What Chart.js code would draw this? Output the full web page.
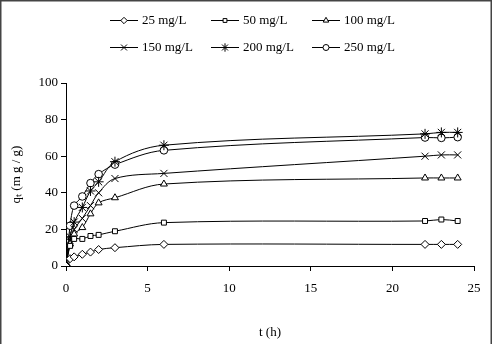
<!DOCTYPE html>
<html>
<head>
<meta charset="utf-8">
<script src="https://cdn.jsdelivr.net/npm/chart.js@4/dist/chart.umd.min.js"></script>
<style>
  html, body { margin: 0; padding: 0; background: #fff; }
  #wrap { width: 494px; height: 344px; position: relative; }
</style>
</head>
<body>
<div id="wrap"><canvas id="kinetics" width="494" height="344"></canvas></div>
<script>
// contact time (h)
const times = [0, 0.25, 0.5, 1, 1.5, 2, 3, 6, 22, 23, 24];

// qt (mg/g) for each initial concentration
const q25  = [0, 4, 5, 6.4, 7.6, 9, 10, 11.8, 11.8, 11.8, 11.8];
const q50  = [0, 11, 14.8, 14.8, 16.4, 17, 19, 23.7, 24.6, 25.4, 24.6];
const q100 = [0, 12, 17.5, 21, 28.5, 34.5, 37.3, 44.8, 48.1, 48.1, 48.1];
const q150 = [0, 14, 20, 26, 33, 40, 47.8, 50.6, 60, 60.7, 60.7];
const q200 = [0, 16, 24, 32, 41, 46, 57, 66, 72.2, 73, 73];
const q250 = [0, 22, 33, 38, 45.3, 50.2, 55.4, 63.2, 70.2, 70, 70.4];

const seriesNames = ['25 mg/L', '50 mg/L', '100 mg/L', '150 mg/L', '200 mg/L', '250 mg/L'];
const seriesValues = [q25, q50, q100, q150, q200, q250];
const markers = ['rectRot', 'rect', 'triangle', 'crossRot', 'star', 'circle'];
const markerSize = { rectRot: 4, rect: 3.5, triangle: 4, crossRot: 5, star: 5, circle: 3.8 };

const serif = "'Liberation Serif', 'Times New Roman', serif";

const datasets = seriesValues.map((vals, i) => ({
    label: seriesNames[i],
    data: times.map((t, j) => ({ x: t, y: vals[j] })),
    borderColor: '#000',
    borderWidth: 1,
    tension: 0.35,
    pointStyle: markers[i],
    pointRadius: markerSize[markers[i]],
    pointBorderColor: '#000',
    pointBorderWidth: 1,
    pointBackgroundColor: '#fff'
}));

// legend drawn as "line + marker + text", two rows of three
const legendPlugin = {
    id: 'lineLegend',
    afterDraw(chart) {
        const ctx = chart.ctx;
        const cols = [110, 211, 312];
        const rows = [20, 47];
        ctx.save();
        chart.data.datasets.forEach((ds, i) => {
            const x = cols[i % 3], y = rows[Math.floor(i / 3)];
            ctx.strokeStyle = '#000';
            ctx.lineWidth = 1;
            ctx.beginPath();
            ctx.moveTo(x, y + 0.5);
            ctx.lineTo(x + 28, y + 0.5);
            ctx.stroke();
            ctx.fillStyle = '#fff';
            ctx.strokeStyle = '#000';
            Chart.helpers.drawPoint(ctx, {
                pointStyle: ds.pointStyle,
                radius: ds.pointRadius - 0.8,
                borderWidth: 1,
                rotation: 0
            }, x + 14, y + 0.5);
            ctx.fillStyle = '#000';
            ctx.font = '13px ' + serif;
            ctx.textBaseline = 'middle';
            ctx.fillText(ds.label, x + 32, y + 1);
        });
        // outer frame
        ctx.strokeStyle = '#444';
        ctx.lineWidth = 1.5;
        ctx.beginPath();
        ctx.moveTo(0.75, 344);
        ctx.lineTo(0.75, 0.75);
        ctx.lineTo(491.25, 0.75);
        ctx.lineTo(491.25, 344);
        ctx.stroke();
        ctx.restore();
    }
};

new Chart(document.getElementById('kinetics'), {
    type: 'line',
    data: { datasets: datasets },
    options: {
        responsive: false,
        animation: false,
        layout: { padding: { top: 83, right: 20, left: 0, bottom: 0 } },
        plugins: {
            legend: { display: false },
            tooltip: { enabled: false }
        },
        scales: {
            x: {
                type: 'linear',
                min: 0,
                max: 25,
                ticks: { stepSize: 5, color: '#000', font: { family: serif, size: 13 }, padding: 10, maxRotation: 0 },
                grid: { display: true, drawOnChartArea: false, color: '#000', tickLength: 5 },
                border: { color: '#000', width: 1 },
                title: { display: true, text: 't (h)', color: '#000', font: { family: serif, size: 13 }, padding: { top: 20, bottom: 4 } },
                afterFit(scale) { scale.height = 78; }
            },
            y: {
                min: 0,
                max: 100,
                ticks: { stepSize: 20, color: '#000', font: { family: serif, size: 13 }, padding: 3 },
                grid: { display: true, drawOnChartArea: false, color: '#000', tickLength: 5 },
                border: { color: '#000', width: 1 },
                title: { display: true, text: 'q\u209C (m g / g)', color: '#000', font: { family: serif, size: 13 }, padding: { top: 9, bottom: 0 } },
                afterFit(scale) { scale.width = 66; }
            }
        }
    },
    plugins: [legendPlugin]
});
</script>
</body>
</html>
